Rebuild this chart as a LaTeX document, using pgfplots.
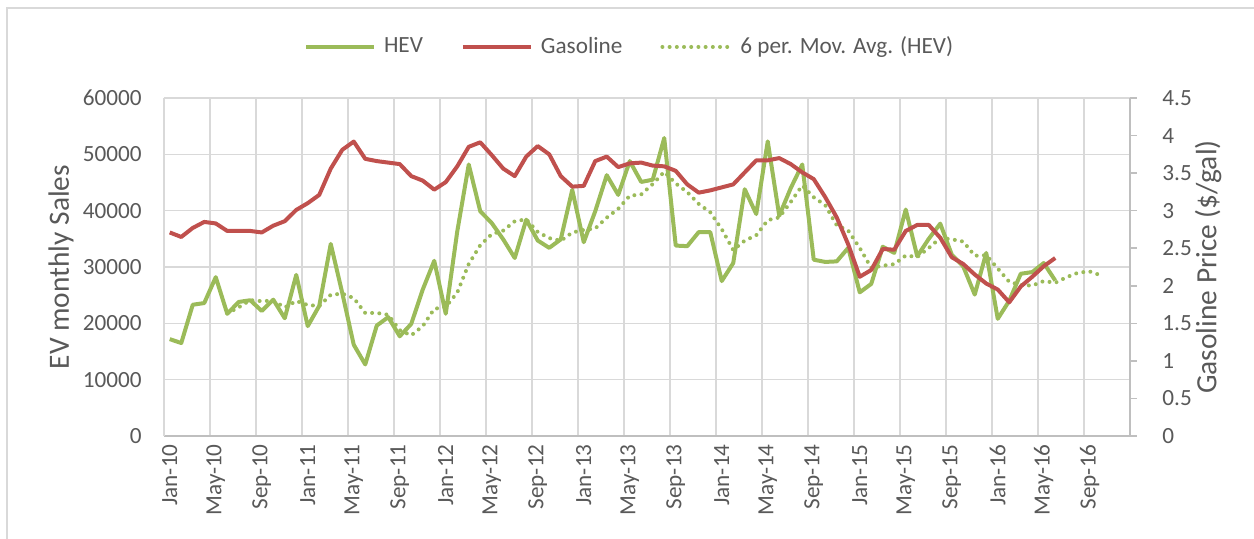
\documentclass[border=0pt]{standalone}
\usepackage{pgfplots}
\usepackage{pgfplotstable}
\pgfplotsset{compat=1.18}
\usepackage{fontspec}
\setmainfont{Carlito}
\definecolor{hev}{HTML}{9BBB59}
\definecolor{gas}{HTML}{C0504D}
\definecolor{gridc}{HTML}{D9D9D9}
\definecolor{axc}{HTML}{BFBFBF}
\definecolor{txt}{HTML}{595959}

\pgfplotstableread{
i hev gas
0 17200 2.71
1 16500 2.65
2 23300 2.77
3 23600 2.85
4 28200 2.83
5 21700 2.73
6 23800 2.73
7 24100 2.73
8 22200 2.71
9 24200 2.80
10 20900 2.86
11 28600 3.01
12 19500 3.10
13 23100 3.21
14 34100 3.56
15 25400 3.81
16 16200 3.92
17 12700 3.69
18 19600 3.66
19 21100 3.64
20 17700 3.62
21 19900 3.46
22 26000 3.40
23 31100 3.28
24 21700 3.38
25 36300 3.59
26 48200 3.85
27 39900 3.91
28 37800 3.74
29 34900 3.56
30 31600 3.46
31 38400 3.72
32 34700 3.86
33 33400 3.75
34 34900 3.46
35 43700 3.32
36 34400 3.33
37 39900 3.66
38 46300 3.72
39 42800 3.58
40 48800 3.63
41 45100 3.64
42 45500 3.60
43 52900 3.59
44 33800 3.53
45 33700 3.35
46 36200 3.24
47 36200 3.27
48 27500 3.31
49 30700 3.35
50 43800 3.51
51 39400 3.67
52 52300 3.67
53 39100 3.70
54 44000 3.62
55 48200 3.51
56 31300 3.42
57 30900 3.18
58 31000 2.91
59 33400 2.55
60 25500 2.12
61 27000 2.21
62 33600 2.49
63 32500 2.48
64 40200 2.73
65 31900 2.81
66 35000 2.81
67 37700 2.64
68 32200 2.38
69 30100 2.29
70 25100 2.15
71 32500 2.03
72 20800 1.95
73 24000 1.78
74 28800 1.99
75 29100 2.12
76 30700 2.26
77 27600 2.37
}\datatable

\pgfplotstableread{
i ma
5 21750
6 22850
7 24117
8 23933
9 24033
10 22817
11 23967
12 23250
13 23083
14 25067
15 25267
16 24483
17 21833
18 21850
19 21517
20 18783
21 17867
22 19500
23 22567
24 22917
25 25450
26 30533
27 33867
28 35833
29 36467
30 38117
31 38467
32 36217
33 35133
34 34650
35 36117
36 36583
37 36833
38 38767
39 40333
40 42650
41 42883
42 44733
43 46900
44 44817
45 43300
46 41200
47 39717
48 36717
49 33017
50 34683
51 35633
52 38317
53 38800
54 41550
55 44467
56 42383
57 40967
58 37417
59 36467
60 33383
61 29850
62 30233
63 30500
64 32033
65 31783
66 33367
67 35150
68 34917
69 34517
70 32000
71 32100
72 29733
73 27367
74 26800
75 26700
76 27500
77 27200
78 28200
79 29000
80 29200
81 28500
}\matable

\begin{document}
\begin{tikzpicture}
\pgfplotsset{
  every axis/.append style={
    scale only axis, width=483bp, height=169bp, xmin=0, xmax=84,
    /pgf/number format/assume math mode=true,
    ticklabel style={font=\fontsize{11.6bp}{13bp}\selectfont, text=txt},
    label style={font=\fontsize{14.7bp}{17bp}\selectfont, text=txt},
  },
}
\useasboundingbox (-82bp,-51.5bp) rectangle (545bp,218bp);
\draw[gridc, line width=1bp] (-78.5bp,-51.5bp) -- (-78.5bp,214bp) -- (545bp,214bp);

\begin{axis}[
  ymin=0, ymax=60000,
  ytick={0,10000,20000,30000,40000,50000,60000},
  scaled y ticks=false,
  yticklabel style={/pgf/number format/1000 sep={}, inner sep=0pt, xshift=-11bp},
  axis x line*=bottom, axis y line*=left,
  x axis line style={draw=axc, line width=0.8bp},
  y axis line style={draw=gridc, line width=0.7bp},
  xtick={0.5,4.5,8.5,12.5,16.5,20.5,24.5,28.5,32.5,36.5,40.5,44.5,48.5,52.5,56.5,60.5,64.5,68.5,72.5,76.5,80.5},
  xticklabels={Jan-10,May-10,Sep-10,Jan-11,May-11,Sep-11,Jan-12,May-12,Sep-12,Jan-13,May-13,Sep-13,Jan-14,May-14,Sep-14,Jan-15,May-15,Sep-15,Jan-16,May-16,Sep-16},
  xticklabel style={yshift=-4bp, rotate=90, anchor=east, inner sep=0pt},
  minor xtick={4,8,12,16,20,24,28,32,36,40,44,48,52,56,60,64,68,72,76,80},
  xminorgrids=true, xmajorgrids=false, ymajorgrids=true,
  major grid style={draw=gridc, line width=0.7bp},
  minor grid style={draw=gridc, line width=0.7bp},
  tick style={draw=none},
  ylabel={EV monthly Sales},
  ylabel style={at={(axis description cs:-0.1066,0.5)}, anchor=center},
  legend columns=3,
  legend cell align=left,
  legend style={draw=none, fill=none, at={(0.483,1.151)}, anchor=center,
    font=\fontsize{11.6bp}{13bp}\selectfont, text=txt,
    /tikz/every odd column/.append style={column sep=2bp},
    /tikz/every even column/.append style={column sep=17bp},
    nodes={inner sep=2bp}},
  legend image code/.code={\draw[#1] (0bp,0bp) -- (34bp,0bp);},
]
\addplot[hev, line width=2bp, line join=round] table[x expr=\thisrow{i}+0.5, y=hev] {\datatable};
\addlegendentry{HEV}
\addlegendimage{gas, line width=2bp}
\addlegendentry{Gasoline}
\addplot[hev, line width=2bp, line cap=round, dash pattern=on 0bp off 3.6bp] table[x expr=\thisrow{i}+0.5, y=ma] {\matable};
\addlegendentry{6 per. Mov. Avg. (HEV)}
\end{axis}

\begin{axis}[
  ymin=0, ymax=4.5,
  ytick={0,0.5,1,1.5,2,2.5,3,3.5,4,4.5},
  axis y line*=right, axis x line=none,
  y axis line style={draw=axc, line width=0.8bp},
  tick align=outside, major tick length=3.5bp,
  ytick style={draw=axc, line width=0.8bp},
  yticklabel style={inner sep=0pt, xshift=12.5bp},
  ylabel={Gasoline Price (\$/gal)},
  ylabel style={at={(axis description cs:1.081,0.5)}, anchor=center},
]
\addplot[gas, line width=2bp, line join=round] table[x expr=\thisrow{i}+0.5, y=gas] {\datatable};
\end{axis}
\end{tikzpicture}
\end{document}
